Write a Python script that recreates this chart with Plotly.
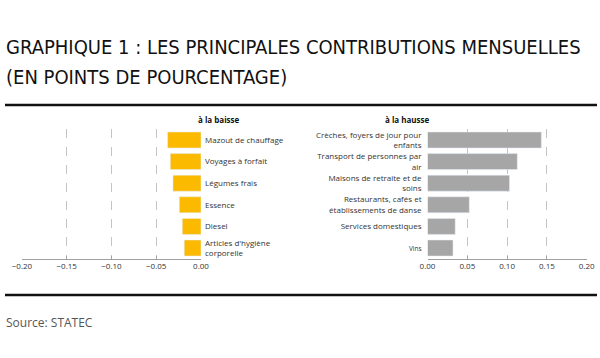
import plotly.graph_objects as go

# ---- data ----
down_labels = ["Mazout de chauffage", "Voyages à forfait", "Légumes frais", "Essence", "Diesel",
               "Articles d'hygiène<br>corporelle"]
down_values = [-0.0373, -0.0343, -0.0313, -0.0242, -0.0209, -0.0187]

up_labels = ["Crèches, foyers de jour pour<br>enfants", "Transport de personnes par<br>air",
             "Maisons de retraite et de<br>soins", "Restaurants, cafés et<br>établissements de danse",
             "Services domestiques", "<span style='font-size:6.5px'>Vins</span>"]
up_values = [0.143, 0.1128, 0.103, 0.0525, 0.0348, 0.032]

left_ticks = [-0.20, -0.15, -0.10, -0.05, 0.00]
right_ticks = [0.00, 0.05, 0.10, 0.15, 0.20]

title_lines = ["GRAPHIQUE 1 : LES PRINCIPALES CONTRIBUTIONS MENSUELLES", "(EN POINTS DE POURCENTAGE)"]
left_header = "à la baisse"
right_header = "à la hausse"
source_text = "Source: STATEC"

W, H = 600, 358
def px(x): return x / W
def py(y): return 1 - y / H

cats_down = [f"d{i}" for i in range(len(down_labels))]
cats_up = [f"u{i}" for i in range(len(up_labels))]

fig = go.Figure()
fig.add_trace(go.Bar(x=down_values, y=cats_down, orientation="h", marker_color="#FBB900",
                     xaxis="x", yaxis="y", showlegend=False))
fig.add_trace(go.Bar(x=up_values, y=cats_up, orientation="h", marker_color="#A6A6A6",
                     xaxis="x2", yaxis="y2", showlegend=False))

ydom = [py(258.8), py(129.2)]
tickfont = dict(family="Open Sans", size=8, color="#333333")
grid = dict(showgrid=True, gridcolor="#C4C4C4", griddash="dash", gridwidth=1,
            showline=True, linecolor="#A0A0A0", linewidth=1, ticks="inside", ticklen=3,
            tickcolor="#A0A0A0", tickfont=tickfont, tickformat=".2f", zeroline=False,
            automargin=False)

fig.update_layout(
    width=W, height=H, margin=dict(l=0, r=0, t=0, b=0, pad=0),
    paper_bgcolor="white", plot_bgcolor="white", bargap=0.26,
    xaxis=dict(domain=[px(22), px(201)], range=[-0.2, 0], tickvals=left_ticks, anchor="y", **grid),
    yaxis=dict(domain=ydom, side="right", anchor="x", categoryorder="array", categoryarray=cats_down,
               autorange="reversed", tickvals=cats_down, ticktext=down_labels, tickfont=tickfont,
               showline=False, showgrid=False, zeroline=False, ticks="", ticklabelstandoff=3,
               automargin=False),
    xaxis2=dict(domain=[px(427.5), px(586.7)], range=[0, 0.2], tickvals=right_ticks, anchor="y2", **grid),
    yaxis2=dict(domain=ydom, side="left", anchor="x2", categoryorder="array", categoryarray=cats_up,
                autorange="reversed", tickvals=cats_up, ticktext=up_labels, tickfont=tickfont,
                showline=False, showgrid=False, zeroline=False, ticks="", ticklabelstandoff=5,
                automargin=False),
    font=dict(family="Open Sans", color="#333333"),
)

title_font = dict(family="DejaVu Sans Condensed, Liberation Sans Narrow, DejaVu Sans", size=20, color="#111111")
for text, yc in zip(title_lines, [47, 77]):
    fig.add_annotation(x=px(4), y=py(yc), xref="paper", yref="paper", xanchor="left", yanchor="middle",
                       text=text, showarrow=False, align="left", font=title_font)
fig.add_annotation(x=px(219), y=py(120), xref="paper", yref="paper", xanchor="center", yanchor="middle",
                   text=f"<b>{left_header}</b>", showarrow=False,
                   font=dict(family="Open Sans", size=8, color="#111111"))
fig.add_annotation(x=px(407), y=py(120), xref="paper", yref="paper", xanchor="center", yanchor="middle",
                   text=f"<b>{right_header}</b>", showarrow=False,
                   font=dict(family="Open Sans", size=8, color="#111111"))
fig.add_annotation(x=px(4), y=py(322), xref="paper", yref="paper", xanchor="left", yanchor="middle",
                   text=source_text, showarrow=False,
                   font=dict(family="Open Sans", size=12, color="#555555"))

fig.add_shape(type="line", xref="paper", yref="paper", x0=px(5), x1=px(597), y0=py(105), y1=py(105),
              line=dict(color="#111111", width=2.5))
fig.add_shape(type="line", xref="paper", yref="paper", x0=px(5), x1=px(597), y0=py(295), y1=py(295),
              line=dict(color="#111111", width=2.5))

fig.write_html("out.html", config={"displayModeBar": False},
               post_script="document.body.style.margin='0';")
